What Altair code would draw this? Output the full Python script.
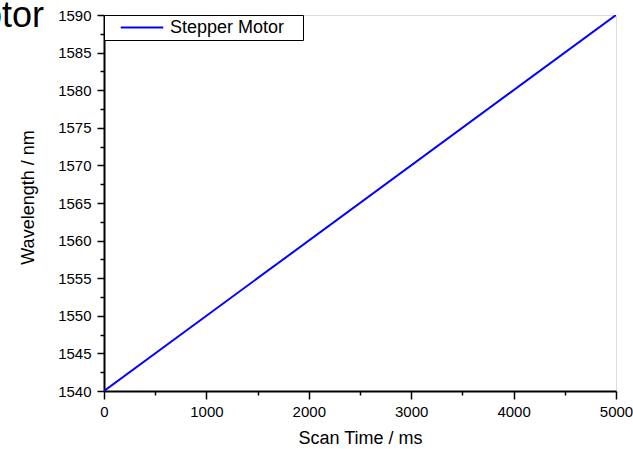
import altair as alt
import pandas as pd

# data
scan_time = [0, 5000]
wavelength = [1540, 1590]
series = ["Stepper Motor", "Stepper Motor"]
chart_title = ["Stepper Motor"]

x_ticks = [0, 500, 1000, 1500, 2000, 2500, 3000, 3500, 4000, 4500, 5000]
y_ticks = [1540 + 2.5 * i for i in range(21)]

df = pd.DataFrame({"t": scan_time, "w": wavelength, "s": series})
df_title = pd.DataFrame({"title": chart_title})

FONT = "Liberation Sans"
PAD = "\u00a0" * 3 + "\u200b"

common = dict(
    labelOverlap=False,
    labelFlush=False,
    tickWidth=1.5,
    tickColor="black",
    domainColor="black",
    domainWidth=2,
    labelFontSize=15,
    labelFont=FONT,
    labelColor="black",
    titleFontSize=18,
    titleFont=FONT,
    titleFontWeight="normal",
    titleColor="black",
    grid=False,
)

x_axis = alt.Axis(
    title="Scan Time / ms",
    values=x_ticks,
    format="d",
    labelExpr="datum.value % 1000 === 0 ? datum.label : ''",
    tickSize={"condition": {"test": "datum.value % 1000 === 0", "value": 8}, "value": 4},
    labelPadding=5,
    titlePadding=10,
    **common,
)

y_axis = alt.Axis(
    title="Wavelength / nm",
    values=y_ticks,
    format="d",
    labelExpr="datum.value % 5 === 0 ? datum.label : ''",
    tickSize={"condition": {"test": "datum.value % 5 === 0", "value": 7}, "value": 4},
    labelPadding=6,
    titlePadding=20,
    titleY=182,
    **common,
)

line = alt.Chart(df).mark_line(strokeWidth=2, clip=True).encode(
    x=alt.X("t:Q", scale=alt.Scale(domain=[0, 5000], nice=False, zero=False), axis=x_axis),
    y=alt.Y("w:Q", scale=alt.Scale(domain=[1540, 1590], nice=False, zero=False), axis=y_axis),
    color=alt.Color(
        "s:N",
        scale=alt.Scale(domain=["Stepper Motor"], range=["#0000FF"]),
        legend=alt.Legend(
            title=None,
            orient="none",
            legendX=0,
            legendY=0,
            symbolType="M-2.5,0H2.5",
            symbolSize=289,
            symbolStrokeWidth=2,
            symbolOffset=25.5,
            labelOffset=18.5,
            labelFontSize=18,
            labelFont=FONT,
            labelColor="black",
            labelExpr="datum.label + '" + PAD + "'",
            padding=3,
            strokeColor="black",
            fillColor="white",
        ),
    ),
)

title = alt.Chart(df_title).mark_text(
    align="right",
    baseline="alphabetic",
    fontSize=36,
    font=FONT,
    color="black",
).encode(
    text="title:N",
    x=alt.value(-60),
    y=alt.value(12),
)

chart = alt.layer(line, title).properties(
    width=512,
    height=376,
    autosize=alt.AutoSizeParams(type="none"),
    padding={"left": 104, "top": 15, "right": 17, "bottom": 58},
).configure_view(
    stroke="black", strokeWidth=2
).configure(background="white")

chart.save("out.html", embed_options={"renderer": "svg", "actions": False})
